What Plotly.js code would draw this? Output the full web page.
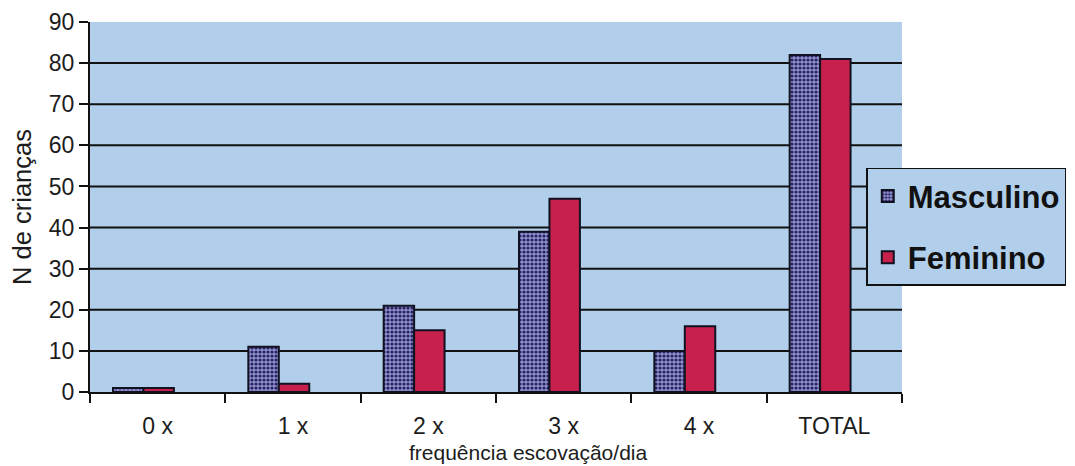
<!DOCTYPE html>
<html>
<head>
<meta charset="utf-8">
<script src="https://cdn.plot.ly/plotly-3.0.1.min.js"></script>
<style>
  html, body { margin: 0; padding: 0; background: #ffffff; }
  #chart { width: 1075px; height: 466px; }
</style>
</head>
<body>
<div id="chart"></div>
<script>
// Brushing frequency per day, by sex
const categories = ['0 x', '1 x', '2 x', '3 x', '4 x', 'TOTAL'];
const masculino = [1, 11, 21, 39, 10, 82];
const feminino = [1, 2, 15, 47, 16, 81];
const gridValues = [10, 20, 30, 40, 50, 60, 70, 80];

const FONT = 'Liberation Sans, Arial, sans-serif';
const TEXT = '#1c1c1c';

const traces = [
  {
    type: 'bar',
    name: 'Masculino',
    legendgroup: 'm',
    x: categories,
    y: masculino,
    offset: -0.33,
    width: 0.225,
    marker: {
      color: '#7e7cc2',
      line: { color: '#111122', width: 2 },
      pattern: { shape: '.', fgcolor: '#25255e', bgcolor: '#9290d2', size: 4, solidity: 0.5 }
    }
  },
  {
    type: 'bar',
    name: 'Feminino',
    legendgroup: 'f',
    x: categories,
    y: feminino,
    offset: -0.105,
    width: 0.225,
    marker: {
      color: '#c8204c',
      line: { color: '#111122', width: 2 }
    }
  }
];

// horizontal rules across the plot at each interior tick
const shapes = gridValues.map(v => ({
  type: 'line', xref: 'paper', yref: 'y',
  x0: 0, x1: 1, y0: v, y1: v,
  layer: 'below',
  line: { color: '#111111', width: 2 }
}));

const layout = {
  width: 1075,
  height: 466,
  margin: { l: 90, r: 173, t: 22, b: 74, autoexpand: false },
  paper_bgcolor: '#ffffff',
  plot_bgcolor: '#b1cfea',
  barmode: 'overlay',
  showlegend: true,
  font: { family: FONT, color: TEXT },
  xaxis: {
    type: 'category',
    range: [-0.5, 5.5],
    tickson: 'boundaries',
    ticks: 'outside',
    ticklen: 9,
    tickwidth: 2,
    tickcolor: '#111111',
    showline: true,
    linecolor: '#111111',
    linewidth: 2,
    showgrid: false,
    ticklabelstandoff: 12,
    tickfont: { family: FONT, size: 23, color: TEXT }
  },
  yaxis: {
    range: [0, 90],
    dtick: 10,
    tick0: 0,
    ticks: 'outside',
    ticklen: 9,
    tickwidth: 2,
    tickcolor: '#111111',
    showline: true,
    linecolor: '#111111',
    linewidth: 2,
    showgrid: false,
    zeroline: false,
    tickfont: { family: FONT, size: 23, color: TEXT },
    title: { text: 'N de crianças', font: { family: FONT, size: 25.5, color: TEXT }, standoff: 10 }
  },
  shapes: shapes,
  annotations: [
    {
      text: 'frequência escovação/dia',
      xref: 'paper', yref: 'paper',
      x: 0.539, y: 0, yshift: -60,
      xanchor: 'center', yanchor: 'middle',
      showarrow: false,
      font: { family: FONT, size: 21, color: TEXT }
    }
  ],
  legend: {
    x: 0.956, y: 0.606,
    xanchor: 'left', yanchor: 'top',
    bgcolor: '#b1cfea',
    bordercolor: '#111111',
    borderwidth: 1.5,
    font: { family: FONT, size: 31, color: '#111111', weight: 'bold' },
    itemwidth: 30,
    tracegroupgap: 18
  }
};

Plotly.newPlot('chart', traces, layout, { displayModeBar: false, staticPlot: true });
</script>
</body>
</html>
